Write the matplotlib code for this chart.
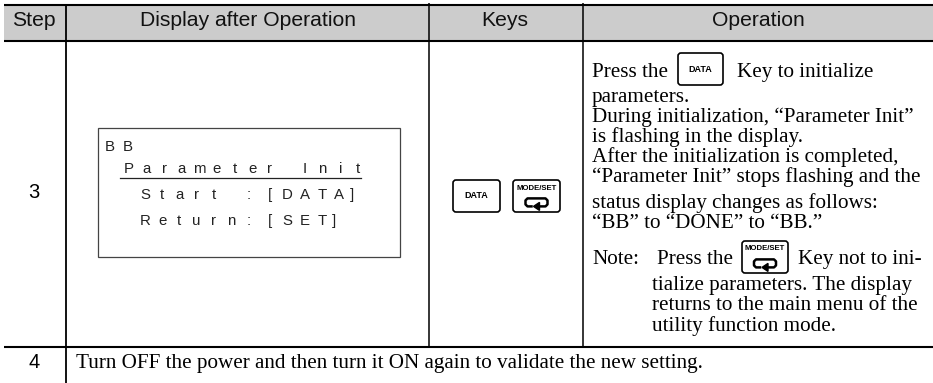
import matplotlib
matplotlib.use("Agg")
import matplotlib.pyplot as plt
from matplotlib.patches import FancyBboxPatch, Rectangle

W = 933
H = 383

headers = ["Step", "Display after Operation", "Keys", "Operation"]
header_x = [34, 248, 505, 758]
steps = ["3", "4"]

lcd_status = "BB"
lcd_title = "Parameter Init"
lcd_start = ["Start :", "[DATA]"]
lcd_return = ["Return:", "[SET]"]

op_lines = [
    "parameters.",
    "During initialization, \u201cParameter Init\u201d",
    "is flashing in the display.",
    "After the initialization is completed,",
    "\u201cParameter Init\u201d stops flashing and the",
    "status display changes as follows:",
    "\u201cBB\u201d to \u201cDONE\u201d to \u201cBB.\u201d",
]
op_y = [102, 122, 142, 162, 182, 208, 228]
note_lines = ["tialize parameters. The display", "returns to the main menu of the", "utility function mode."]
note_y = [290, 310, 331]
last_row = "Turn OFF the power and then turn it ON again to validate the new setting."

SERIF = "Liberation Serif"
SANS = "Liberation Sans"
BODY = 15.2


# draws a rounded key with its label, and the return arrow for MODE/SET
def key(ax, x, y, w, h, label, arrow=False):
    ax.add_patch(FancyBboxPatch((x + 2, y + 2), w - 4, h - 4, boxstyle="round,pad=2,rounding_size=3",
                                fc="white", ec="black", lw=1.2))
    if arrow:
        ax.text(x + w / 2, y + 8, label, family=SANS, fontsize=5.6, weight="bold", ha="center", va="center")
        cx = x + w / 2
        cy = y + h * 0.7
        ax.plot([cx + 1, cx + 9, cx + 11, cx + 11, cx + 9, cx - 9, cx - 11, cx - 11, cx - 9, cx - 5],
                [cy + 4, cy + 4, cy + 2, cy - 2, cy - 4, cy - 4, cy - 2, cy + 2, cy + 4, cy + 4],
                color="black", lw=1.8)
        ax.fill([cx - 3, cx + 3, cx + 3], [cy + 4, cy, cy + 8], color="black")
    else:
        ax.text(x + w / 2, y + h / 2, label, family=SANS, fontsize=6.5, weight="bold", ha="center", va="center")


def spaced(ax, x, y, s, pitch):
    for i, ch in enumerate(s):
        nudge = -5 if ch == "]" else 0
        ax.text(x + i * pitch + nudge, y, ch, family=SANS, fontsize=10.8, color="#222222", ha="center", va="baseline")


def main():
    fig = plt.figure(figsize=(W / 100, H / 100), dpi=100)
    ax = fig.add_axes([0, 0, 1, 1])
    ax.set_xlim(0, W)
    ax.set_ylim(H, 0)
    ax.axis("off")

    # header band
    ax.add_patch(Rectangle((4, 5), W - 4, 36, fc="#cccccc", ec="none"))
    for s, x in zip(headers, header_x):
        ax.text(x, 20.5, s, family=SANS, fontsize=15.2, ha="center", va="center", color="#111111")

    # grid lines
    for y in [5, 41, 347]:
        ax.plot([4, W], [y, y], color="black", lw=1.5, solid_capstyle="butt")
    ax.plot([66, 66], [5, H], color="black", lw=1.3, solid_capstyle="butt")
    ax.plot([429, 429], [3, 347], color="black", lw=1.1, solid_capstyle="butt")
    ax.plot([583, 583], [3, 347], color="black", lw=1.1, solid_capstyle="butt")

    ax.text(34, 192, steps[0], family=SANS, fontsize=14.5, ha="center", va="center")
    ax.text(34, 363, steps[1], family=SANS, fontsize=14.5, ha="center", va="center")

    # display panel
    ax.add_patch(Rectangle((98, 128), 302, 129, fc="white", ec="#444444", lw=0.9))
    spaced(ax, 110, 151, lcd_status, 18)
    spaced(ax, 129, 173, lcd_title, 17.6)
    ax.plot([120, 361], [178, 178], color="#222222", lw=0.9)
    spaced(ax, 145, 199, lcd_start[0], 17.2)
    spaced(ax, 270, 199, lcd_start[1], 17.3)
    spaced(ax, 145, 225, lcd_return[0], 17.2)
    spaced(ax, 270, 225, lcd_return[1], 17.3)

    # keys column
    key(ax, 453, 180, 47, 32, "DATA")
    key(ax, 513, 180, 47, 32, "MODE/SET", arrow=True)

    # operation column
    ax.text(592, 77, "Press the", family=SERIF, fontsize=BODY, va="baseline")
    key(ax, 678, 53, 45, 32, "DATA")
    ax.text(737, 77, "Key to initialize", family=SERIF, fontsize=BODY, va="baseline")
    for s, y in zip(op_lines, op_y):
        ax.text(592, y, s, family=SERIF, fontsize=BODY, va="baseline")

    ax.text(592, 264, "Note:", family=SERIF, fontsize=BODY, va="baseline")
    ax.text(657, 264, "Press the", family=SERIF, fontsize=BODY, va="baseline")
    key(ax, 742, 241, 46, 32, "MODE/SET", arrow=True)
    ax.text(798, 264, "Key not to ini-", family=SERIF, fontsize=BODY, va="baseline")
    for s, y in zip(note_lines, note_y):
        ax.text(652, y, s, family=SERIF, fontsize=BODY, va="baseline")

    ax.text(76, 368, last_row, family=SERIF, fontsize=BODY, va="baseline")

    fig.savefig("out.png", dpi=100)


if __name__ == "__main__":
    main()
